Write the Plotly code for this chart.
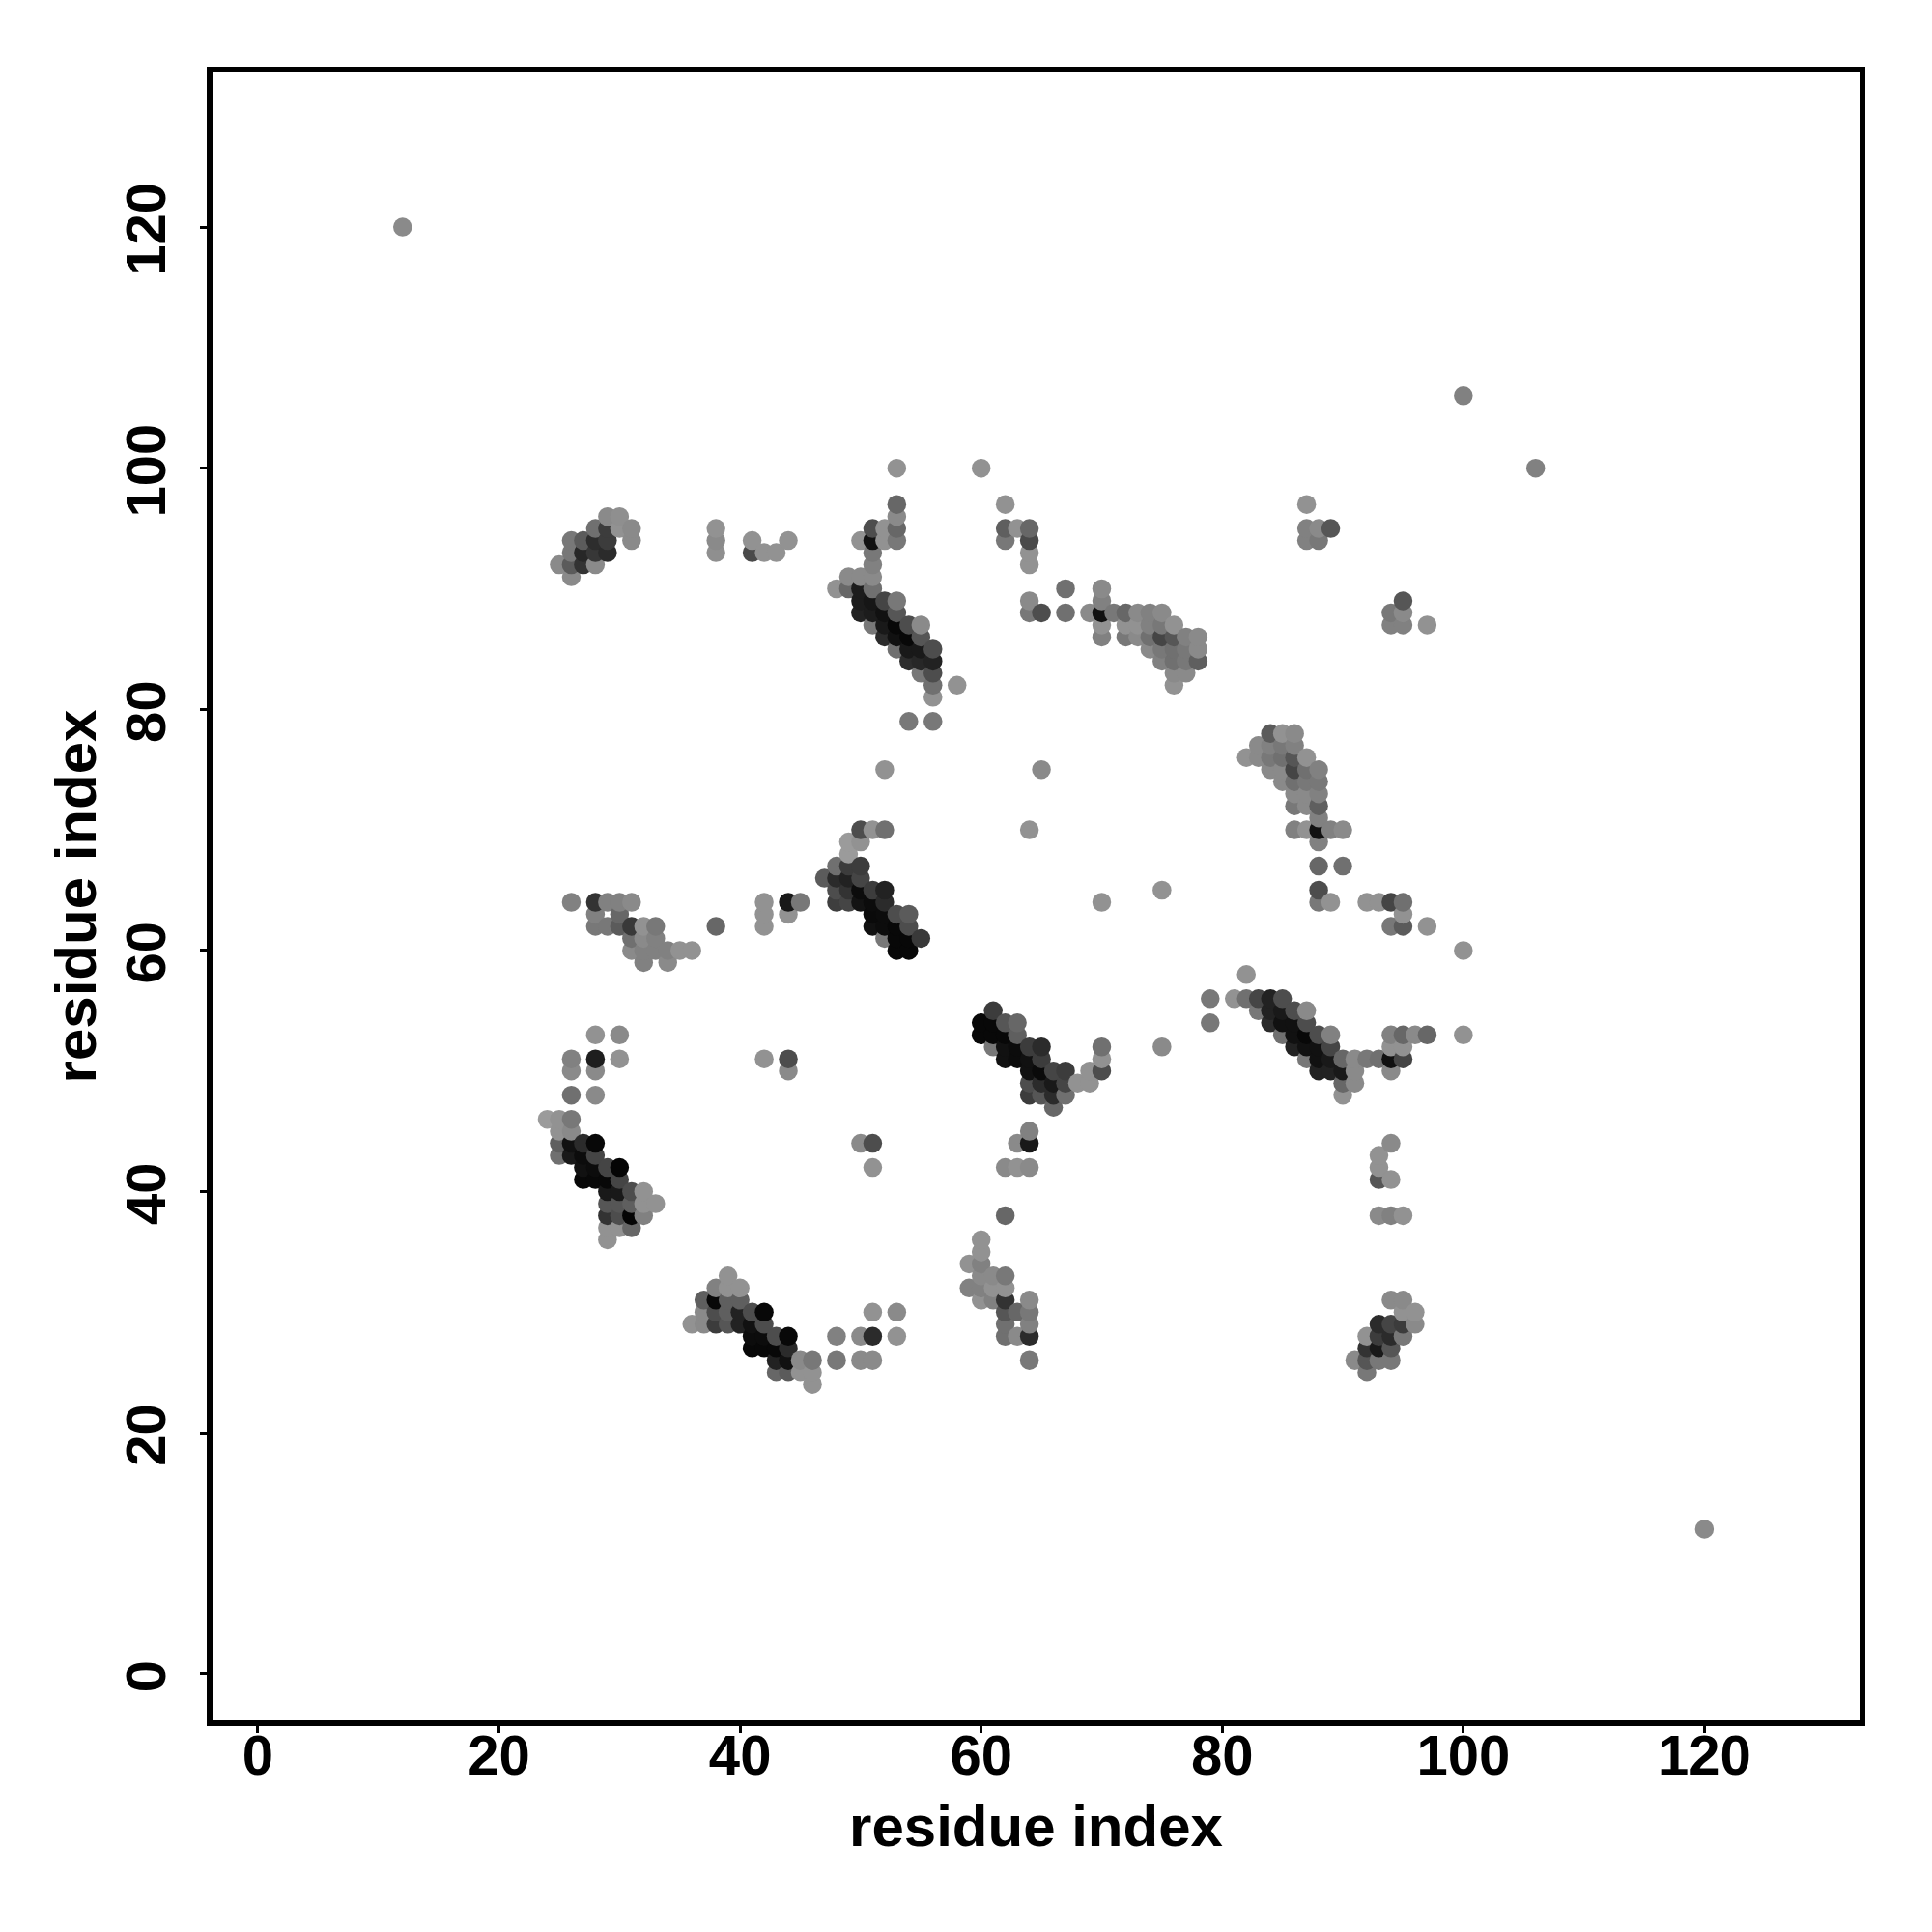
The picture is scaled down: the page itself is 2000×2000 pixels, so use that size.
import numpy as np
import plotly.graph_objects as go

# residue pairs and grey level, read cluster by cluster
x_upper_left = [25,26,26,26,26,27,27,27,28,28,28,28,29,29,29,29,30,30,31,31, 38,38,38, 41,41,42,43,44]
y_upper_left = [92,91,92,93,94,94,93,92,92,93,94,95,93,94,95,96,96,95,95,94, 95,94,93, 94,93,93,93,94]
g_upper_left = [0x80,0x80,0x55,0x70,0x70,0x55,0x25,0x30,0x80,0x33,0x2a,0x68,0x28,0x38,0x38,0x80,0x85,0x88,0x80,0x80,
                0x88,0x80,0x85, 0x88,0x45,0x88,0x88,0x88]

x_strand_a = [48,49,49,50,51,51,50,50,50,51,51,51,52,52,52,52,53,53,53,53,53,54,54,54,54,55,55,55,55,55,56,56,56,56,56,58,54,56,
              51,51,51,51,50,52,52,53,53,53,53,53,60]
y_strand_a = [90,90,91,91,91,90,90,89,88,89,88,87,89,88,87,86,89,88,87,86,85,87,86,85,84,87,86,85,84,83,85,84,83,82,81,82,79,79,
              92,93,94,95,94,95,94,94,95,96,97,100,100]
g_strand_a = [0x88,0x60,0x80,0x80,0x80,0x68,0x1a,0x1a,0x20,0x15,0x1a,0x70,0x40,0x10,0x18,0x28,0x70,0x50,0x08,0x10,0x68,
              0x48,0x08,0x18,0x2a,0x80,0x50,0x18,0x25,0x70,0x48,0x20,0x48,0x68,0x88,0x88,0x70,0x70,
              0x78,0x70,0x10,0x48,0x88,0x88,0x88,0x70,0x60,0x80,0x60,0x88,0x88]

x_upper_mid = [62,62,62,63,64,64,64,64,64,64,65,67,67,69,70,70,70,70,70,71,72,72,72,73,73,73,74,74,74,74,75,75,75,75,75,
               76,76,76,76,76,76,77,77,77,77,78,78,78]
y_upper_mid = [97,95,94,95,95,94,93,92,89,88,88,90,88,88,88,90,89,87,86,88,88,87,86,88,87,86,88,87,86,85,88,87,86,85,84,
               87,86,85,84,83,82,86,85,84,83,86,85,84]
g_upper_mid = [0x88,0x58,0x70,0x88,0x60,0x45,0x88,0x88,0x80,0x70,0x48,0x68,0x68,0x80,0x10,0x80,0x78,0x88,0x78,0x70,
               0x60,0x88,0x70,0x80,0x88,0x80,0x78,0x78,0x68,0x80,0x80,0x70,0x40,0x70,0x78,
               0x88,0x50,0x68,0x68,0x80,0x88,0x78,0x70,0x70,0x80,0x80,0x80,0x58]

x_upper_right = [87,87,88,89,87,88,95,94,95,94,95,97]
y_upper_right = [97,95,95,95,94,94,89,88,88,87,87,87]
g_upper_right = [0x88,0x78,0x80,0x50,0x78,0x70,0x50,0x70,0x80,0x78,0x78,0x88]

x_row64 = [26,28,29,30,31,28,30,28,29,30,31,32,33,31,32,33,31,32,33,34,35,36,32,34,38,42,42,42,44,45,44]
y_row64 = [64,64,64,64,64,63,63,62,62,62,62,62,62,61,61,61,60,60,60,60,60,60,59,59,62,64,63,62,64,64,63]
g_row64 = [0x78,0x30,0x78,0x78,0x80,0x78,0x60,0x70,0x70,0x55,0x35,0x88,0x70,0x68,0x80,0x78,0x80,0x78,0x78,0x78,0x88,0x88,
           0x78,0x80,0x60,0x88,0x88,0x88,0x18,0x70,0x88]

x_strand_b = [47,48,48,48,48,49,49,49,49,50,50,50,50,51,51,51,51,52,52,52,52,52,53,53,53,53,54,54,54,54,55,52,50,51,52,49,50,49]
y_strand_b = [66,67,66,65,64,67,66,65,64,67,66,65,64,65,64,63,62,65,64,63,62,61,63,62,61,60,63,62,61,60,61,75,70,70,70,69,69,68]
g_strand_b = [0x55,0x68,0x28,0x48,0x3a,0x38,0x20,0x30,0x40,0x38,0x40,0x0c,0x12,0x38,0x0c,0x0a,0x10,0x20,0x28,0x0c,0x0c,0x70,
              0x48,0x08,0x08,0x08,0x55,0x48,0x08,0x08,0x35,0x88,0x48,0x88,0x68,0x90,0x88,0x90]

x_mid_sparse = [65,64,70,75]
y_mid_sparse = [75,70,64,65]
g_mid_sparse = [0x80,0x88,0x88,0x88]

x_strand_c = [84,85,86,83,84,85,86,82,83,84,85,86,87,84,85,86,87,88,85,86,87,88,86,87,88,86,87,88,88,86,87,88,89,90,88,88,90,88,88,89]
y_strand_c = [78,78,78,77,77,77,77,76,76,76,76,76,76,75,75,75,75,75,74,74,74,74,73,73,73,72,72,72,71,70,70,70,70,70,69,67,67,65,64,64]
g_strand_c = [0x55,0x88,0x80,0x80,0x78,0x70,0x78,0x88,0x80,0x70,0x68,0x50,0x88,0x80,0x80,0x40,0x68,0x78,0x80,0x68,0x70,0x70,
              0x80,0x80,0x78,0x70,0x80,0x58,0x78,0x78,0x88,0x10,0x78,0x80,0x78,0x60,0x68,0x48,0x70,0x88]

x_right64 = [92,93,94,95,95,94,95,97,100]
y_right64 = [64,64,64,64,63,62,62,62,60]
g_right64 = [0x88,0x88,0x40,0x68,0x88,0x70,0x55,0x88,0x88]

x_strand_d = [61,60,61,62,63,60,61,62,63,61,62,63,64,65,62,63,64,65,64,65,66,67,64,65,66,67,64,65,66,67,66,68,69,69,70,70,70,
              64,64,63,62,63,64,62,75]
y_strand_d = [55,54,54,54,54,53,53,53,53,52,52,52,52,52,51,51,51,51,50,50,50,50,49,49,49,49,48,48,48,48,47,49,49,50,50,51,52,
              45,44,44,42,42,42,38,52]
g_strand_d = [0x38,0x08,0x08,0x50,0x60,0x08,0x08,0x08,0x58,0x70,0x10,0x0c,0x38,0x28,0x10,0x0c,0x10,0x38,0x10,0x0a,0x40,0x38,
              0x48,0x28,0x18,0x40,0x38,0x50,0x28,0x68,0x60,0x88,0x88,0x88,0x48,0x88,0x68,
              0x78,0x18,0x80,0x80,0x88,0x80,0x60,0x80]

x_strand_e = [79,79,82,81,82,83,84,85,83,84,85,86,87,84,85,86,87,85,86,87,88,89,86,87,88,89,87,88,89,90,91,92,93,94,95,
              88,89,90,91,94,90,91,90]
y_strand_e = [56,54,58,56,56,56,56,56,55,55,55,55,55,54,54,54,54,53,53,53,53,53,52,52,52,52,51,51,51,51,51,51,51,51,51,
              50,50,50,50,50,49,49,48]
g_strand_e = [0x70,0x70,0x88,0x88,0x68,0x40,0x20,0x48,0x70,0x20,0x18,0x48,0x80,0x28,0x10,0x10,0x48,0x68,0x10,0x08,0x48,0x78,
              0x20,0x10,0x10,0x40,0x70,0x10,0x18,0x60,0x80,0x70,0x68,0x10,0x40,
              0x20,0x20,0x18,0x80,0x80,0x60,0x80,0x88]

x_right53 = [94,95,96,97,100,94,95,94,93,93,93,94,93,94,95]
y_right53 = [53,53,53,53,53,52,52,44,43,42,41,41,38,38,38]
g_right53 = [0x78,0x60,0x80,0x60,0x88,0x88,0x88,0x80,0x88,0x88,0x50,0x88,0x80,0x78,0x88]

x_lower_left = [28,30,26,28,30,26,28,26,28,24,25,26,25,26,25,26,27,28,25,26,27,28,27,28,29,30,27,28,29,30,
                29,30,31,32,29,30,31,32,33,29,30,31,32,29,30,31,29]
y_lower_left = [53,53,51,51,51,50,50,48,48,46,46,46,45,45,44,44,44,44,43,43,43,43,42,42,42,42,41,41,41,41,
                40,40,40,40,39,39,39,39,39,38,38,38,38,37,37,37,36]
g_lower_left = [0x88,0x80,0x78,0x1c,0x88,0x80,0x80,0x68,0x80,0x90,0x88,0x70,0x88,0x80,0x58,0x10,0x28,0x08,0x68,0x18,0x0c,0x40,
                0x10,0x0c,0x40,0x05,0x08,0x08,0x08,0x40,0x18,0x18,0x48,0x88,0x50,0x50,0x58,0x88,0x88,0x30,0x48,0x05,0x78,
                0x88,0x88,0x60,0x88]

x_lower_mid = [42,44,44,50,51,51]
y_lower_mid = [51,51,50,44,44,42]
g_lower_mid = [0x88,0x48,0x80,0x80,0x48,0x88]

x_strand_f = [39,38,39,40,37,38,39,40,37,38,39,40,41,42,36,37,38,39,40,41,42,41,42,43,44,41,42,43,44,43,44,45,46,43,44,45,46,46,
              48,48,50,51,51,53,53,50,51]
y_strand_f = [33,32,32,32,31,31,31,31,30,30,30,30,30,30,29,29,29,29,29,29,29,28,28,28,28,27,27,27,27,26,26,26,26,25,25,25,25,24,
              28,26,28,28,30,30,28,26,26]
g_strand_f = [0x88,0x78,0x88,0x88,0x58,0x08,0x58,0x58,0x80,0x48,0x58,0x20,0x48,0x08,0x88,0x80,0x38,0x50,0x20,0x10,0x48,
              0x0c,0x0c,0x48,0x08,0x08,0x08,0x08,0x28,0x20,0x10,0x80,0x70,0x60,0x55,0x88,0x88,0x88,
              0x78,0x70,0x80,0x28,0x88,0x80,0x88,0x80,0x80]

x_lower_60s = [60,60,59,60,60,61,62,59,60,61,62,60,61,62,62,63,64,64,62,64,62,63,64,64]
y_lower_60s = [36,35,34,34,33,33,33,32,32,32,32,31,31,31,30,30,31,30,29,29,28,28,28,26]
g_lower_60s = [0x88,0x88,0x88,0x78,0x80,0x80,0x70,0x78,0x78,0x88,0x88,0x88,0x78,0x30,0x50,0x60,0x80,0x70,0x68,0x78,0x68,0x80,0x28,0x70]

x_lower_right = [91,92,92,92,92,93,93,93,93,94,94,94,94,95,95,95,94,95,96,96]
y_lower_right = [26,25,26,27,28,26,27,28,29,26,27,28,29,28,29,30,31,31,30,29]
g_lower_right = [0x80,0x70,0x50,0x30,0x88,0x70,0x18,0x38,0x28,0x70,0x50,0x28,0x40,0x70,0x38,0x88,0x80,0x80,0x88,0x80]

x_far = [12,120,100,106]
y_far = [120,12,106,100]
g_far = [0x80,0x80,0x78,0x78]

tick_values = [0, 20, 40, 60, 80, 100, 120]
axis_label = "residue index"

xs = np.array(x_upper_left + x_strand_a + x_upper_mid + x_upper_right + x_row64 + x_strand_b + x_mid_sparse + x_strand_c
              + x_right64 + x_strand_d + x_strand_e + x_right53 + x_lower_left + x_lower_mid + x_strand_f + x_lower_60s
              + x_lower_right + x_far)
ys = np.array(y_upper_left + y_strand_a + y_upper_mid + y_upper_right + y_row64 + y_strand_b + y_mid_sparse + y_strand_c
              + y_right64 + y_strand_d + y_strand_e + y_right53 + y_lower_left + y_lower_mid + y_strand_f + y_lower_60s
              + y_lower_right + y_far)
gs = np.array(g_upper_left + g_strand_a + g_upper_mid + g_upper_right + g_row64 + g_strand_b + g_mid_sparse + g_strand_c
              + g_right64 + g_strand_d + g_strand_e + g_right53 + g_lower_left + g_lower_mid + g_strand_f + g_lower_60s
              + g_lower_right + g_far)
order = np.lexsort((ys, xs))
colors = [f"rgb({int(g*1.08)},{int(g*1.08)},{int(g*1.08)})" for g in gs[order]]

tick_font = dict(family="Liberation Sans", size=58, color="black", weight="bold")
title_font = dict(family="Liberation Sans", size=60, color="black", weight="bold")
axis_common = dict(
    tickvals=tick_values, ticks="outside", ticklen=7, tickwidth=3, tickcolor="black",
    showgrid=False, zeroline=False, showline=True, linecolor="black", linewidth=6, mirror=True,
    tickfont=tick_font,
)
fig = go.Figure(go.Scatter(x=xs[order], y=ys[order], mode="markers", cliponaxis=True,
                           marker=dict(size=19.5, color=colors, line=dict(width=0)), showlegend=False))
fig.update_layout(
    width=2000, height=2000, autosize=False, paper_bgcolor="white", plot_bgcolor="white",
    margin=dict(l=211.7, r=82.7, t=67, b=227, autoexpand=False),
    xaxis=dict(range=[-3.765, 132.87], ticklabelstandoff=-27,
               title=dict(text=axis_label, font=title_font, standoff=23), **axis_common),
    yaxis=dict(range=[-3.87, 132.83], tickangle=-90, ticklabelstandoff=13, ticklabelshift=11,
               title=dict(text=axis_label, font=title_font, standoff=1), **axis_common),
)
fig.write_html("out.html")
